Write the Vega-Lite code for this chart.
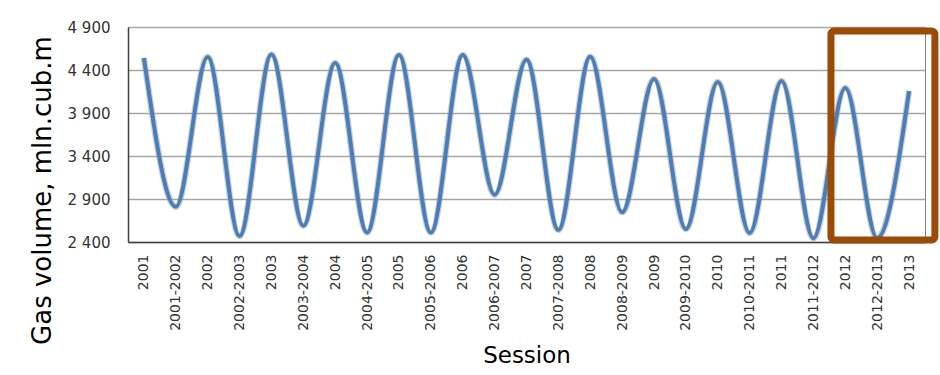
{
  "$schema": "https://vega.github.io/schema/vega-lite/v6.json",
  "autosize": "none",
  "width": 797,
  "height": 215,
  "padding": {"left": 128, "top": 27, "right": 15, "bottom": 133},
  "background": "white",
  "config": {
    "view": {"stroke": "#7f7f7f", "strokeWidth": 1},
    "font": "DejaVu Sans"
  },
  "datasets": {
    "gas": [
      {"session": "2001", "volume": 4540},
      {"session": "2001-2002", "volume": 2810},
      {"session": "2002", "volume": 4550},
      {"session": "2002-2003", "volume": 2470},
      {"session": "2003", "volume": 4580},
      {"session": "2003-2004", "volume": 2590},
      {"session": "2004", "volume": 4480},
      {"session": "2004-2005", "volume": 2510},
      {"session": "2005", "volume": 4575},
      {"session": "2005-2006", "volume": 2510},
      {"session": "2006", "volume": 4575},
      {"session": "2006-2007", "volume": 2950},
      {"session": "2007", "volume": 4520},
      {"session": "2007-2008", "volume": 2540},
      {"session": "2008", "volume": 4555},
      {"session": "2008-2009", "volume": 2745},
      {"session": "2009", "volume": 4295},
      {"session": "2009-2010", "volume": 2550},
      {"session": "2010", "volume": 4260},
      {"session": "2010-2011", "volume": 2505},
      {"session": "2011", "volume": 4272},
      {"session": "2011-2012", "volume": 2445},
      {"session": "2012", "volume": 4190},
      {"session": "2012-2013", "volume": 2445},
      {"session": "2013", "volume": 4155}
    ],
    "box": [
      {"x0": 21.55, "x1": 24.81, "y0": 2423, "y1": 4853}
    ]
  },
  "layer": [
    {
      "data": {"name": "gas"},
      "encoding": {
        "x": {
          "field": "session", "type": "ordinal", "sort": null,
          "scale": {"type": "point", "padding": 0.5},
          "axis": {
            "title": "Session", "titleFontSize": 23, "titleFontWeight": "normal", "titleColor": "#000000",
            "titlePadding": 14,
            "labelAngle": -90, "labelFontSize": 14, "labelColor": "#333333", "labelPadding": 12,
            "ticks": false, "grid": false, "domainColor": "#404040", "domainWidth": 1.5
          }
        },
        "y": {
          "field": "volume", "type": "quantitative",
          "scale": {"domain": [2400, 4900], "nice": false, "zero": false},
          "axis": {
            "title": "Gas volume,  mln.cub.m", "titleFontSize": 26, "titleFontWeight": "normal", "titleColor": "#000000",
            "titleX": -86, "titleY": 163, "titleAlign": "center", "titleBaseline": "middle",
            "values": [2400, 2900, 3400, 3900, 4400, 4900],
            "labelExpr": "replace(format(datum.value, ',d'), ',', ' ')",
            "labelFontSize": 15, "labelColor": "#333333", "labelPadding": 18,
            "ticks": false, "gridColor": "#a6a6a6", "gridWidth": 1.5,
            "domainColor": "#404040", "domainWidth": 1.5
          }
        }
      },
      "layer": [
        {"mark": {"type": "line", "interpolate": "monotone", "stroke": "#9a9a9a", "strokeWidth": 6.5, "opacity": 0.45}},
        {"mark": {"type": "line", "interpolate": "monotone", "stroke": "#4a7ebb", "strokeWidth": 4}}
      ]
    },
    {
      "data": {"name": "box"},
      "mark": {"type": "rect", "fill": null, "fillOpacity": 0, "stroke": "#9c4a06", "strokeWidth": 7, "cornerRadius": 3, "clip": false},
      "encoding": {
        "x": {"field": "x0", "type": "quantitative", "scale": {"domain": [-0.5, 24.5], "nice": false, "zero": false}, "axis": null},
        "x2": {"field": "x1"},
        "y": {"field": "y0", "type": "quantitative"},
        "y2": {"field": "y1"}
      }
    }
  ],
  "resolve": {"scale": {"x": "independent"}}
}
